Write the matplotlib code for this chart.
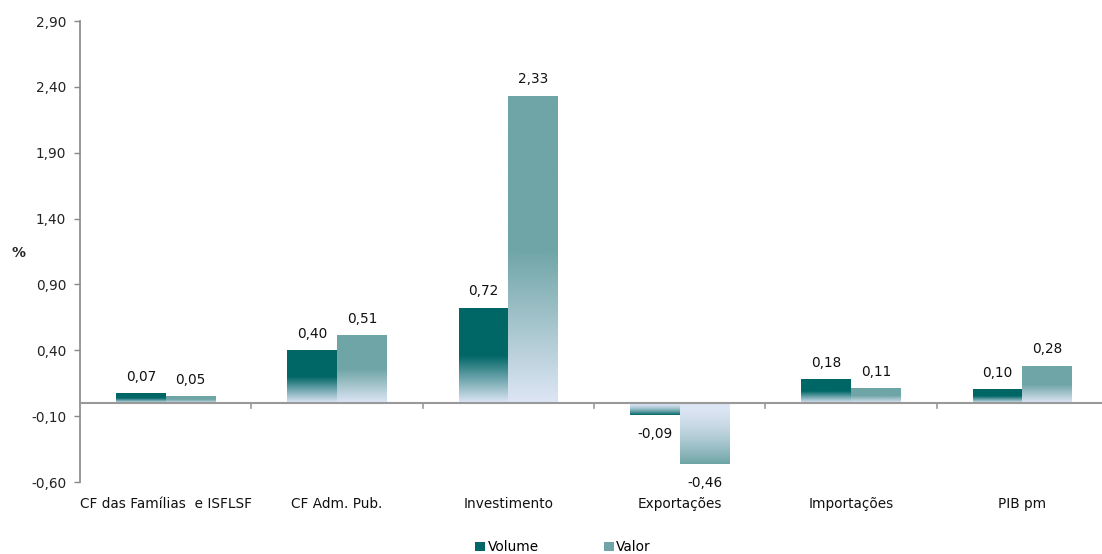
import numpy as np
import matplotlib
matplotlib.use('Agg')
from matplotlib import pyplot as plt
from matplotlib.patches import Rectangle
from matplotlib.transforms import blended_transform_factory

categories = ['CF das Famílias  e ISFLSF', 'CF Adm. Pub.', 'Investimento',
              'Exportações', 'Importações', 'PIB pm']
volume = [0.07, 0.40, 0.72, -0.09, 0.18, 0.10]
valor = [0.05, 0.51, 2.33, -0.46, 0.11, 0.28]
series_names = ['Volume', 'Valor']
yticks = [-0.60, -0.10, 0.40, 0.90, 1.40, 1.90, 2.40, 2.90]

dark_teal = np.array([0, 102, 102]) / 255
light_teal = np.array([111, 165, 166]) / 255
pale = np.array([222, 230, 245]) / 255

plt.rcParams['font.family'] = 'DejaVu Sans'
FS = 9.8


def gradient_image(value, color, n=200):
    # t runs from the bar base (0) to the bar end (1)
    t = np.linspace(0, 1, n)
    if value >= 0:
        s = np.clip(t / 0.5, 0, 1)
    else:
        s = t ** 1.6
    rows = pale[None, :] * (1 - s[:, None]) + color[None, :] * s[:, None]
    if value < 0:
        rows = rows[::-1]
    return rows[:, None, :]


def draw_gradient_bars(ax, xs, values, width, color):
    bars = ax.bar(xs, values, width=width, align='edge', facecolor='none',
                  edgecolor='none', zorder=2)
    for rect, v in zip(bars, values):
        x0 = rect.get_x()
        ax.imshow(gradient_image(v, color), origin='lower', aspect='auto',
                  extent=(x0, x0 + width, min(0, v), max(0, v)),
                  interpolation='bilinear', zorder=2, clip_path=rect,
                  clip_on=True)
    return bars


def fmt(v):
    return '{:.2f}'.format(v).replace('.', ',')


fig = plt.figure(figsize=(11.02, 5.54), dpi=100)
ax = fig.add_axes([80 / 1102, 1 - 482 / 554, 1028 / 1102, 461 / 554])

x = np.arange(len(categories))
w = 0.29
draw_gradient_bars(ax, x - w, volume, w, dark_teal)
draw_gradient_bars(ax, x, valor, w, light_teal)

for xs, vals in ((x - w / 2, volume), (x + w / 2, valor)):
    for xi, v in zip(xs, vals):
        if v >= 0:
            ax.annotate(fmt(v), (xi, v), xytext=(0, 7), textcoords='offset points',
                        ha='center', va='bottom', fontsize=FS, color='#111111')
        else:
            ax.annotate(fmt(v), (xi, v), xytext=(0, -9), textcoords='offset points',
                        ha='center', va='top', fontsize=FS, color='#111111')

ax.set_xlim(-0.5, len(categories) - 0.5)
ax.set_ylim(-0.60, 2.90)

# y axis
ax.set_yticks(yticks)
ax.set_yticklabels([fmt(v) for v in yticks], fontsize=FS, color='#222222')
ax.tick_params(axis='y', direction='out', length=4, width=1, color='#888888', pad=6)
for side in ('top', 'right', 'bottom'):
    ax.spines[side].set_visible(False)
ax.spines['left'].set_color('#888888')
ax.spines['left'].set_linewidth(1.2)

# category axis crosses at zero
ax.set_xticks([])
ax.axhline(0, color='#999999', lw=1.5, zorder=3)
for b in np.arange(0.5, len(categories) - 0.5, 1.0):
    ax.plot([b, b], [0, -0.04], color='#999999', lw=1.2, zorder=3, clip_on=False)

trans = blended_transform_factory(ax.transData, ax.transAxes)
for xi, name in zip(x, categories):
    ax.text(xi, -0.047, name, transform=trans, ha='center', va='center',
            fontsize=FS, color='#111111')

fig.text(19 / 1102, 1 - 253 / 554, '%', ha='center', va='center',
         fontsize=10, fontweight='bold', color='#222222')

handles = [Rectangle((0, 0), 1, 1, facecolor=dark_teal, edgecolor='none'),
           Rectangle((0, 0), 1, 1, facecolor=light_teal, edgecolor='none')]
fig.legend(handles, series_names, loc='center', bbox_to_anchor=(563 / 1102, 7 / 554),
           ncol=2, frameon=False, fontsize=FS, handlelength=0.75, handleheight=0.65,
           handletextpad=0.15, columnspacing=4.8, borderpad=0, borderaxespad=0)

fig.savefig('out.png', dpi=100)
